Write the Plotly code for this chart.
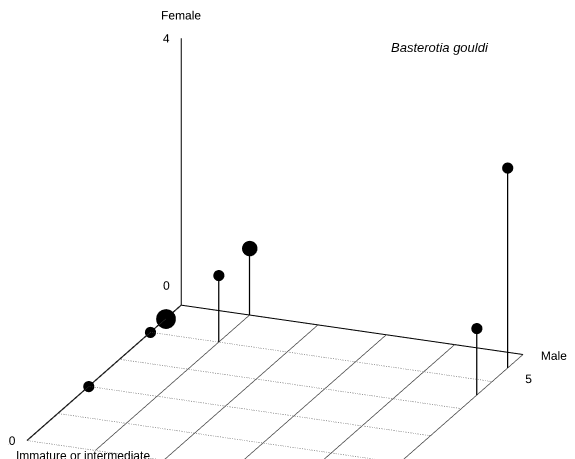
import plotly.graph_objects as go

# (male, immature, female) counts per individual group
male = [0, 0, 0, 1, 1, 5, 5]
immature = [1, 2, 6, 0, 2, 3, 1]
female = [0, 0, 0, 1, 1, 1, 3]
count = [3, 1, 1, 2, 1, 1, 1]

male_ticks = [0, 1, 2, 3, 4, 5]
imm_ticks = [0, 2, 4, 6, 8, 10]
female_max = 4

fig = go.Figure()
ink = "black"

# floor grid
for m in male_ticks:
    fig.add_scatter3d(x=[m, m], y=[0, 10], z=[0, 0], mode="lines",
                      line={"color": "#444", "width": 1.5}, hoverinfo="skip")
for i in imm_ticks:
    fig.add_scatter3d(x=[0, 5], y=[i, i], z=[0, 0], mode="lines",
                      line={"color": ink if i == 0 else "#555", "width": 2 if i == 0 else 1.5,
                            "dash": "solid" if i == 0 else "dot"},
                      hoverinfo="skip")
# axes
fig.add_scatter3d(x=[0, 0], y=[0, 10], z=[0, 0], mode="lines",
                  line={"color": ink, "width": 2.5}, hoverinfo="skip")
fig.add_scatter3d(x=[0, 0], y=[0, 0], z=[0, female_max], mode="lines",
                  line={"color": ink, "width": 2}, hoverinfo="skip")

# stems
for mx, iy, fz in zip(male, immature, female):
    if fz > 0:
        fig.add_scatter3d(x=[mx, mx], y=[iy, iy], z=[0, fz], mode="lines",
                          line={"color": ink, "width": 2.5}, hoverinfo="skip")

fig.add_scatter3d(x=male, y=immature, z=female, mode="markers",
                  marker={"color": ink, "opacity": 1, "size": [13 + 5 * (c - 1) for c in count],
                          "line": {"width": 0}})

# labels
fig.add_scatter3d(
    x=[0, 5.1, 0, 0, 5, 0],
    y=[0, 0, 0, 10, 0.6, 0],
    z=[female_max + 0.1, 0, female_max, 0, 0, 0.05],
    mode="text",
    text=["Female", "Male", "4 ", "10 ", "5", "0 "],
    textposition=["top center", "middle right", "middle left", "middle left",
                  "bottom right", "top left"],
    textfont={"family": "Arial, Liberation Sans", "size": 12, "color": ink},
    hoverinfo="skip")

hidden = dict(visible=False, showgrid=False, zeroline=False, showbackground=False)
font = dict(family="Arial, Liberation Sans", size=12, color=ink)
fig.update_layout(
    width=575, height=459, showlegend=False,
    paper_bgcolor="white", margin=dict(l=0, r=0, t=0, b=0),
    scene=dict(
        xaxis=dict(range=[0, 5.6], **hidden),
        yaxis=dict(range=[0, 11.5], autorange="reversed", **hidden),
        zaxis=dict(range=[0, 4.5], **hidden),
        aspectmode="manual", aspectratio=dict(x=1.8, y=1.9, z=1.4),
        camera=dict(projection=dict(type="orthographic"),
                    eye=dict(x=0.73, y=-1.8, z=0.8), center=dict(x=0, y=0, z=0.06),
                    up=dict(x=0, y=0, z=1)),
    ),
    annotations=[
        dict(text="<i>Basterotia gouldi</i>", xref="paper", yref="paper",
             x=0.84, y=0.935, showarrow=False, font=dict(font, size=13)),
        dict(text="Immature or intermediate", xref="paper", yref="paper",
             x=0.01, y=0.005, xanchor="left", yanchor="bottom", showarrow=False, font=font),
    ],
)
fig.write_html("out.html")
